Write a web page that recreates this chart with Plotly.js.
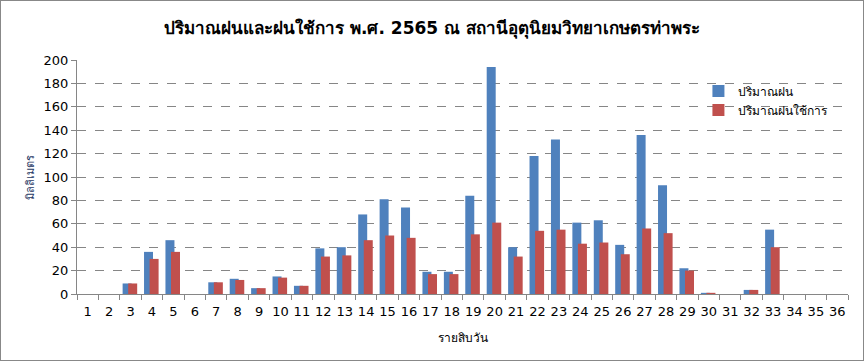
<!DOCTYPE html>
<html>
<head>
<meta charset="utf-8">
<script src="https://cdn.plot.ly/plotly-3.0.1.min.js"></script>
<style>
html,body{margin:0;padding:0;background:#fff;}
#wrap{width:864px;height:361px;box-sizing:border-box;border:1px solid #888;overflow:hidden;}
#chart{width:862px;height:359px;}
</style>
</head>
<body>
<div id="wrap"><div id="chart"></div></div>
<script>
const categories = ["1","2","3","4","5","6","7","8","9","10","11","12","13","14","15","16","17","18","19","20","21","22","23","24","25","26","27","28","29","30","31","32","33","34","35","36"];
const rainTotal = [0,0,9,36,46,0,10,13,5,15,7,39,40,68,81,74,19,19,84,194,40,118,132,61,63,42,136,93,22,1,0,3.5,55,0,0,0];
const rainEffective = [0,0,9,30,36,0,10,12,5,14,7,32,33,46,50,48,17,17,51,61,32,54,55,43,44,34,56,52,20,1,0,3.5,40,0,0,0];
const seriesNames = ["ปริมาณฝน","ปริมาณฝนใช้การ"];
const titleText = "ปริมาณฝนและฝนใช้การ พ.ศ. 2565 ณ สถานีอุตุนิยมวิทยาเกษตรท่าพระ";
const xTitle = "รายสิบวัน";
const yTitle = "มิลลิเมตร";

const font = "Tahoma, 'DejaVu Sans', 'Noto Sans', sans-serif";

const traces = [
  {type:'bar', x:categories, y:rainTotal, name:seriesNames[0],
   marker:{color:'#4F81BD'}, width:0.42, offset:-0.37},
  {type:'bar', x:categories, y:rainEffective, name:seriesNames[1],
   marker:{color:'#C0504D'}, width:0.42, offset:-0.11}
];

const layout = {
  width:862, height:359,
  margin:{l:76, r:15, t:59, b:66},
  barmode:'overlay',
  paper_bgcolor:'#fff', plot_bgcolor:'#fff',
  font:{family:font, color:'#000', size:13},
  title:{text:'<b>'+titleText+'</b>', x:0.5, xref:'container', xanchor:'center', y:0.925, yref:'container', yanchor:'middle', font:{size:17, color:'#000'}},
  showlegend:true,
  legend:{x:0.806, y:0.93, xanchor:'left', yanchor:'top', font:{size:12}, bgcolor:'rgba(0,0,0,0)', tracegroupgap:6},
  xaxis:{type:'category', showgrid:false, showline:true, linecolor:'#868686', linewidth:1,
    ticks:'outside', tickson:'boundaries', ticklen:5, tickcolor:'#868686', tickangle:0,
    ticklabelstandoff:5,
    tickfont:{size:13}, title:{text:xTitle, font:{size:12}, standoff:16}, zeroline:false},
  yaxis:{range:[0,200], dtick:20, showgrid:true, gridcolor:'#868686', griddash:'dash', gridwidth:1,
    showline:true, linecolor:'#868686', linewidth:1, ticks:'outside', ticklen:5, tickcolor:'#868686',
    tickfont:{size:13}, zeroline:false,
    title:{text:yTitle, font:{size:11, color:'#1F3864'}, standoff:6}}
};

Plotly.newPlot('chart', traces, layout, {displayModeBar:false, staticPlot:true});
</script>
</body>
</html>
